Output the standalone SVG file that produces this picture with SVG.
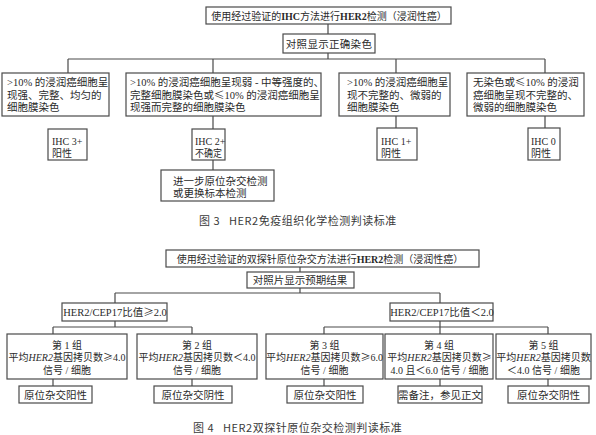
<svg xmlns="http://www.w3.org/2000/svg" width="596" height="435" viewBox="0 0 596 435">
<style>
.b{fill:#fff;stroke:#4a4a4a;stroke-width:1.2}
.c{fill:none;stroke:#4a4a4a;stroke-width:1.2}
text{font-family:"Liberation Serif","Noto Sans CJK SC",serif;font-size:10.5px;fill:#2a2a2a}
.s{font-size:10px}
.m{text-anchor:middle}
.cap{font-family:"Noto Sans CJK SC","Liberation Sans",sans-serif;font-size:11px;fill:#3a3a3a;letter-spacing:0.5px}
.bd{font-weight:bold}
.it{font-style:italic}
.k{font-family:"Noto Sans CJK SC",sans-serif}
</style>
<rect width="596" height="435" fill="#fff"/>
<g id="connectors">
<path class="c" d="M328,24V34M328,53V59M68,59H545M68,59V73M213,59V73M396,59V73M545,59V73M213,116V129M396,116V128M545,116V128M213,160V170"/>
<path class="c" d="M300,267V272M300,288V293M115,293H440M115,293V303M440,293V303M115,321V327M53,327H192M53,327V334M192,327V334M440,321V327M324,327H548M324,327V334M440,327V334M548,327V334M53,379V386M192,379V386M324,379V386M440,379V386M548,379V386"/>
</g>
<g id="fig3-top"><rect class="b" x="206" y="7" width="245" height="17"/><text class="m s" x="329" y="19.5">使用经过验证的<tspan class="bd">IHC</tspan>方法进行<tspan class="bd">HER2</tspan>检测（浸润性癌）</text></g>
<g id="fig3-control"><rect class="b" x="283" y="34" width="92" height="19"/><text class="m" x="329" y="47.5" letter-spacing="0.3">对照显示正确染色</text></g>
<g id="fig3-c1"><rect class="b" x="2" y="73" width="107" height="43"/><text x="7" y="86">&gt;10% 的浸润癌细胞呈</text><text x="7" y="98.5">现强、完整、均匀的</text><text x="7" y="111">细胞膜染色</text></g>
<g id="fig3-c2"><rect class="b" x="126" y="73" width="195" height="43"/><text x="130" y="86">&gt;10% 的浸润癌细胞呈现弱 - 中等强度的、</text><text x="130" y="98.5">完整细胞膜染色或<tspan class="k">≤</tspan>10% 的浸润癌细胞呈</text><text x="130" y="111">现强而完整的细胞膜染色</text></g>
<g id="fig3-c3"><rect class="b" x="339" y="73" width="111" height="43"/><text x="347" y="86">&gt;10% 的浸润癌细胞呈</text><text x="347" y="98.5">现不完整的、微弱的</text><text x="347" y="111">细胞膜染色</text></g>
<g id="fig3-c4"><rect class="b" x="467" y="73" width="117" height="43"/><text x="473" y="86">无染色或<tspan class="k">≤</tspan>10% 的浸润</text><text x="473" y="98.5">癌细胞呈现不完整的、</text><text x="473" y="111">微弱的细胞膜染色</text></g>
<g id="ihc3"><rect class="b" x="48" y="129" width="39" height="31"/><text class="s" x="52" y="145">IHC 3+</text><text class="s" x="52" y="157">阳性</text></g>
<g id="ihc2"><rect class="b" x="192" y="129" width="33" height="31"/><text class="s" x="195" y="145">IHC 2+</text><text class="s" x="195" y="157" textLength="27" lengthAdjust="spacingAndGlyphs">不确定</text></g>
<g id="ihc1"><rect class="b" x="377" y="128" width="40" height="32"/><text class="s" x="381" y="144.5">IHC 1+</text><text class="s" x="381" y="156.5">阴性</text></g>
<g id="ihc0"><rect class="b" x="528" y="128" width="32" height="32"/><text class="s" x="531" y="144.5">IHC 0</text><text class="s" x="531" y="156.5">阴性</text></g>
<g id="fig3-next"><rect class="b" x="161" y="170" width="113" height="31"/><text x="173" y="185">进一步原位杂交检测</text><text x="173" y="196.5">或更换标本检测</text></g>
<text class="cap" x="199" y="225">图 3<tspan dx="9">HER2免疫组织化学检测判读标准</tspan></text>
<g id="fig4-top"><rect class="b" x="166" y="250" width="313" height="17"/><text class="m s" x="320" y="262.5">使用经过验证的双探针原位杂交方法进行<tspan class="bd">HER2</tspan>检测（浸润性癌）</text></g>
<g id="fig4-control"><rect class="b" x="247" y="272" width="107" height="16"/><text class="m" x="300" y="284">对照片显示预期结果</text></g>
<g id="ratio-hi"><rect class="b" x="62" y="303" width="105" height="18"/><text class="m" x="115" y="316">HER2/CEP17比值<tspan class="k">≥</tspan>2.0</text></g>
<g id="ratio-lo"><rect class="b" x="390" y="303" width="103" height="18"/><text class="m" x="442" y="316">HER2/CEP17比值＜2.0</text></g>
<g id="g1"><rect class="b" x="7" y="334" width="120" height="45"/><text class="m s" x="67" y="349">第 1 组</text><text class="m s" x="67" y="361">平均<tspan class="it">HER2</tspan>基因拷贝数<tspan class="k">≥</tspan>4.0</text><text class="m s" x="67" y="373.5">信号 / 细胞</text></g>
<g id="g2"><rect class="b" x="137" y="334" width="120" height="45"/><text class="m s" x="197" y="349">第 2 组</text><text class="m s" x="197" y="361">平均<tspan class="it">HER2</tspan>基因拷贝数＜4.0</text><text class="m s" x="197" y="373.5">信号 / 细胞</text></g>
<g id="g3"><rect class="b" x="266" y="334" width="117" height="45"/><text class="m s" x="324.5" y="349">第 3 组</text><text class="m s" x="324.5" y="361">平均<tspan class="it">HER2</tspan>基因拷贝数<tspan class="k">≥</tspan>6.0</text><text class="m s" x="324.5" y="373.5">信号 / 细胞</text></g>
<g id="g4"><rect class="b" x="385" y="334" width="108" height="45"/><text class="m s" x="439" y="349">第 4 组</text><text class="m s" x="439.5" y="361">平均<tspan class="it">HER2</tspan>基因拷贝数<tspan class="k">≥</tspan></text><text class="m s" x="439.5" y="373.5">4.0 且＜6.0 信号 / 细胞</text></g>
<g id="g5"><rect class="b" x="496" y="334" width="95" height="45"/><text class="m s" x="543.5" y="349">第 5 组</text><text class="m s" x="543.5" y="361">平均<tspan class="it">HER2</tspan>基因拷贝数</text><text class="m s" x="543.5" y="373.5">＜4.0 信号 / 细胞</text></g>
<g id="r1"><rect class="b" x="19" y="386" width="73" height="17"/><text class="m" x="55.5" y="398.5">原位杂交阳性</text></g>
<g id="r2"><rect class="b" x="154" y="386" width="78" height="17"/><text class="m" x="193" y="398.5">原位杂交阴性</text></g>
<g id="r3"><rect class="b" x="287" y="386" width="76" height="17"/><text class="m" x="325" y="398.5">原位杂交阳性</text></g>
<g id="r4"><rect class="b" x="398" y="386" width="84" height="17"/><text class="m" x="440" y="398.5">需备注，参见正文</text></g>
<g id="r5"><rect class="b" x="508" y="386" width="81" height="17"/><text class="m" x="548.5" y="398.5">原位杂交阴性</text></g>
<text class="cap" x="193" y="432">图 4<tspan dx="9">HER2双探针原位杂交检测判读标准</tspan></text>
</svg>
